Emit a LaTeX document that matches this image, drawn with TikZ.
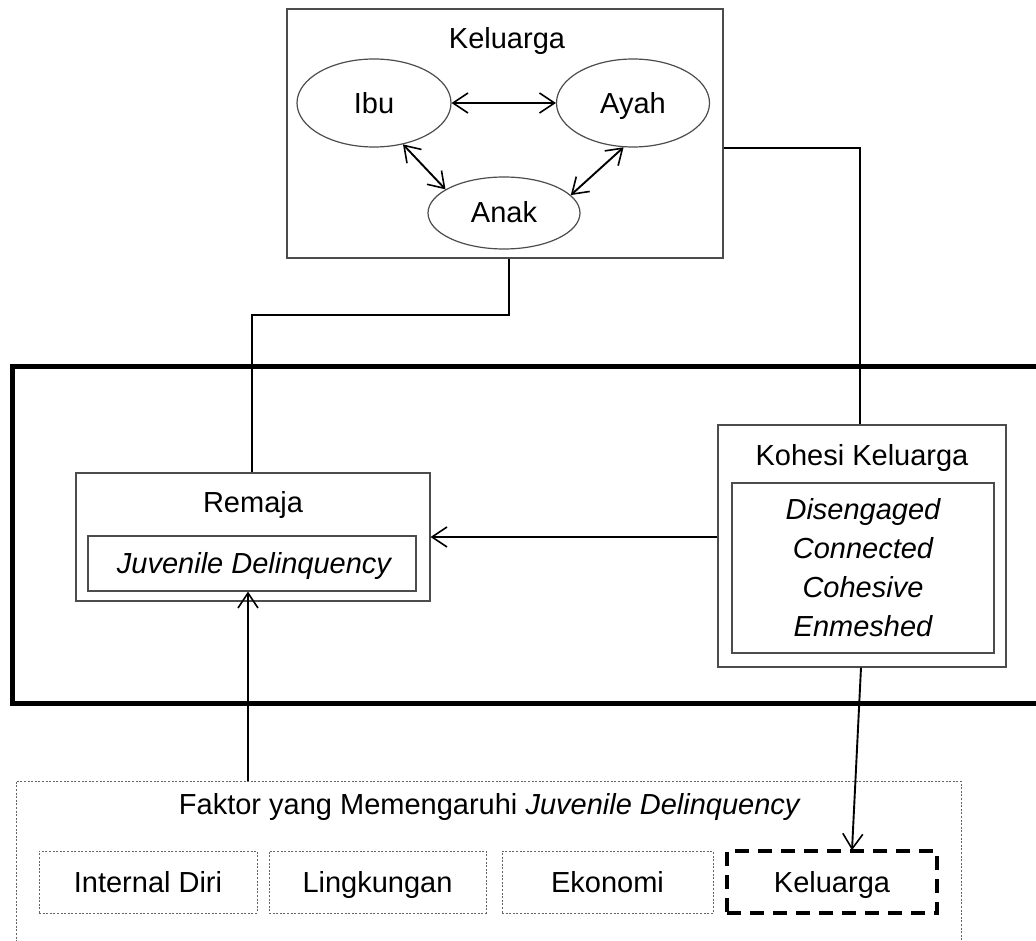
\documentclass[tikz,border=0pt]{standalone}
\usepackage{fontspec}
\setmainfont{Liberation Sans}
\usetikzlibrary{arrows.meta,calc,shapes.geometric}
\begin{document}
\begin{tikzpicture}[x=1pt,y=-1pt,
  font=\fontsize{29}{39}\selectfont,
  >={Straight Barb[length=15pt,width=20pt,line width=1.6pt]},
  conn/.style={line width=1.9pt,black},
  txt/.style={text height=20.8pt,text depth=0pt},
  box/.style={draw=black!70,line width=1.2pt,rectangle,inner sep=0pt,txt},
  oval/.style={draw=black!70,line width=1.2pt,ellipse,inner sep=0pt,txt},
  dotbox/.style={draw=black!60,line width=1pt,dash pattern=on 2pt off 1.6pt,rectangle,inner sep=0pt},
  dashbox/.style={draw=black,line width=3.5pt,dash pattern=on 14pt off 9pt,rectangle,inner sep=0pt},
  lbl/.style={inner sep=0pt,txt}]
\clip (0,0) rectangle (1036,941);
\fill[white] (0,0) rectangle (1036,941);
% Keluarga box
\node[box,minimum width=436pt,minimum height=249pt] (kel) at (505,133.5) {};
\node[lbl] (keltitle) at (507,38) {Keluarga};
\node[oval,minimum width=154pt,minimum height=88pt] (ibu) at (374,103) {Ibu};
\node[oval,minimum width=153pt,minimum height=88pt] (ayah) at (633,103) {Ayah};
\node[oval,minimum width=152pt,minimum height=72pt] (anak) at (504,213) {};
\node[lbl] (anaktext) at (504,212) {Anak};
\draw[conn,<->] (ibu) -- (ayah);
\draw[conn,<->] (ibu.-55) -- (anak.158);
\draw[conn,<->] (ayah.-102) -- (anak.15.7);
% thick frame
\draw[line width=5pt,line join=miter] (1045,366) -- (12,366) -- (12,703) -- (1045,703);
% Remaja
\node[box,minimum width=354pt,minimum height=128pt] (rem) at (253,537) {};
\node[lbl] (remtitle) at (253,502) {Remaja};
\node[box,minimum width=328pt,minimum height=55pt] (juv) at (252,563.5) {};
\node[lbl] (juvtext) at (254,563) {\itshape Juvenile Delinquency};
% Kohesi
\node[box,minimum width=288pt,minimum height=242pt] (koh) at (862,546) {};
\node[lbl] (kohtitle) at (862,455) {Kohesi Keluarga};
\node[box,minimum width=262pt,minimum height=170pt] (kohin) at (863,568) {};
\node[inner sep=0pt,align=center,font=\fontsize{29}{39}\selectfont\itshape] (kohtext) at (863,568) {Disengaged\\Connected\\Cohesive\\Enmeshed};
% Faktor
\node[dotbox,minimum width=945pt,minimum height=190pt] (fak) at (488.5,876) {};
\node[lbl] (faktitle) at (490,804) {Faktor yang Memengaruhi \textit{Juvenile Delinquency}};
\node[dotbox,minimum width=218pt,minimum height=62pt] (intd) at (148,882) {};
\node[lbl] (intdtext) at (148,882) {Internal Diri};
\node[dotbox,minimum width=217pt,minimum height=62pt] (ling) at (377.5,882) {};
\node[lbl] (lingtext) at (377.5,882) {Lingkungan};
\node[dotbox,minimum width=211pt,minimum height=62pt] (eko) at (607.5,882) {};
\node[lbl] (ekotext) at (607.5,882) {Ekonomi};
\node[dashbox,minimum width=210pt,minimum height=62pt] (kel2) at (832,882) {};
\node[lbl] (kel2text) at (832,882) {Keluarga};
% connectors
\draw[conn] (kel.east |- 0,148) -| (koh.north -| 860,0);
\draw[conn] (kel.south -| 509,0) -- (509,315) -| (rem.north -| 252,0);
\draw[conn,->] (koh.west |- rem.east) -- (rem.east);
\draw[conn,->] (fak.north -| 248,0) -- (juv.south -| 248,0);
\draw[conn,->] (koh.south -| 861,0) -- ([yshift=-1pt]kel2.north -| 852,0);
\end{tikzpicture}
\end{document}
